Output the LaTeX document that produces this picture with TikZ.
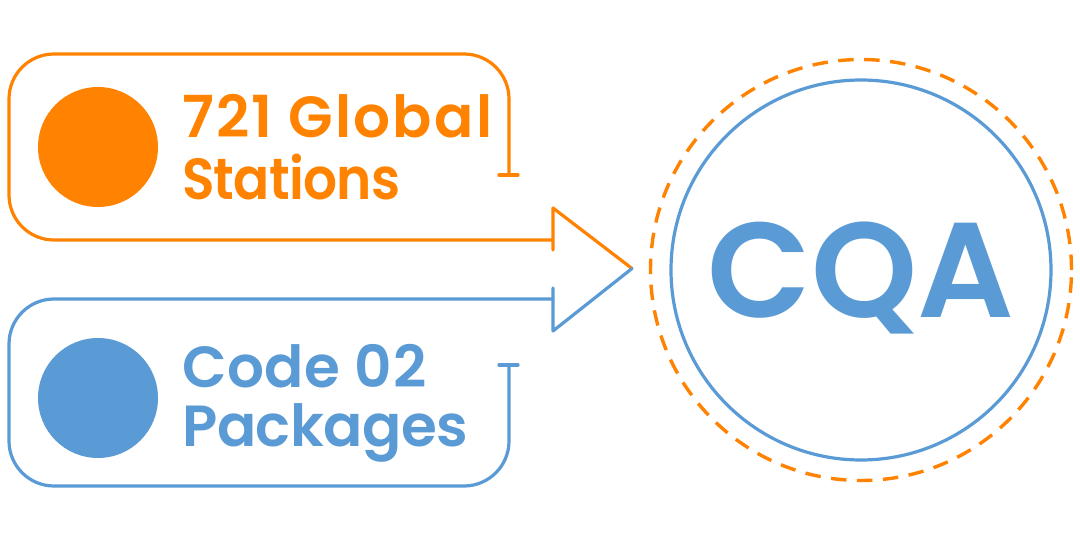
\documentclass[tikz,border=0pt]{standalone}
\usepackage{fontspec}
\setmainfont{Poppins SemiBold}
\definecolor{org}{HTML}{FF8300}
\definecolor{blu}{HTML}{5B9BD5}
\newcommand{\ls}[1]{\addfontfeatures{LetterSpace=#1}}
\newcommand{\lsx}[2]{\addfontfeatures{LetterSpace=#1,FakeStretch=#2}}
\begin{document}
\begin{tikzpicture}[x=1pt,y=-1pt,
  orgline/.style={draw=org,line width=3.2pt,line join=round,line cap=round},
  bluline/.style={draw=blu,line width=3.2pt,line join=round,line cap=round},
  dot/.style={circle,minimum size=120pt,inner sep=0pt},
  lbl/.style={anchor=base west,align=left,font=\fontsize{58}{60}\selectfont,inner sep=0pt}]
\useasboundingbox (0,0) rectangle (1080,540);
\fill[white] (0,0) rectangle (1080,540);
\draw[orgline] (509,175) -- (509,99) arc[start angle=0,end angle=-90,radius=45] -- (54,54) arc[start angle=270,end angle=180,radius=45] -- (9,195) arc[start angle=180,end angle=90,radius=45] -- (553,240);
\draw[orgline] (499,175) -- (518,175);
\draw[bluline] (509,365) -- (509,441) arc[start angle=0,end angle=90,radius=45] -- (54,486) arc[start angle=90,end angle=180,radius=45] -- (9,344) arc[start angle=180,end angle=270,radius=45] -- (553,299);
\draw[bluline] (499,365) -- (518,365);
\draw[orgline] (553,250) -- (553,208) -- (632,268.5);
\draw[bluline] (553,288) -- (553,331) -- (632,268.5);
\node[dot,fill=org] (a) at (98,147) {};
\node[dot,fill=blu] (b) at (98,398) {};
\node[lbl,text=org] (t1) at (182,138) {\ls{3.8}721 Global};
\node[lbl,text=org] (t1b) at (182,200) {\lsx{-1.3}{0.92}Stations};
\node[lbl,text=blu] (t2) at (182,388) {\ls{1}Code 02};
\node[lbl,text=blu] (t2b) at (182,446.5) {\ls{-0.9}Packages};
\node[circle,draw=blu,line width=3.2pt,minimum size=380pt,inner sep=0pt] (c) at (861,270) {};
\node[circle,draw=org,line width=3.4pt,dash pattern=on 15.5pt off 10.5pt,minimum size=421pt,inner sep=0pt] (d) at (861,270) {};
\node[font=\fontsize{135}{135}\selectfont,text=blu,anchor=base] (q) at (861,318) {CQA};
\end{tikzpicture}
\end{document}
